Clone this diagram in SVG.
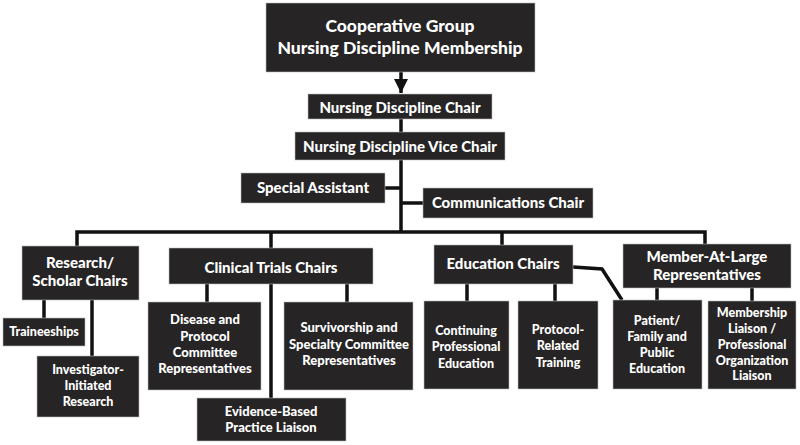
<svg xmlns="http://www.w3.org/2000/svg" width="800" height="445" viewBox="0 0 800 445">
<style>
.box{fill:#262425;stroke:#bdbdbd;stroke-width:0.6}
.t{font-family:Lato,"Open Sans",sans-serif;font-weight:900;fill:#fff;text-anchor:middle;dominant-baseline:central}
.l{font-size:17.5px}.m{font-size:15px}.s{font-size:13px}.xs{font-size:12.5px}
.c{stroke:#111;stroke-width:3.5;fill:none}
</style>
<defs><marker id="ah" viewBox="0 0 10 10" refX="10" refY="5" markerWidth="4" markerHeight="4" orient="auto"><path d="M0,0 L10,5 L0,10 z" fill="#111"/></marker></defs>
<rect width="800" height="445" fill="#fff"/>
<g id="connectors">
<line class="c" x1="401" y1="72" x2="401" y2="93" marker-end="url(#ah)"/>
<line class="c" x1="401" y1="119" x2="401" y2="132"/>
<line class="c" x1="401" y1="160" x2="401" y2="233"/>
<line class="c" x1="385" y1="188" x2="401" y2="188"/>
<line class="c" x1="401" y1="203" x2="423" y2="203"/>
<polyline class="c" points="77,246 77,232 705,232 705,244"/>
<line class="c" x1="271" y1="232" x2="271" y2="248"/>
<line class="c" x1="502" y1="232" x2="502" y2="245"/>
<line class="c" x1="44" y1="300" x2="44" y2="318"/>
<line class="c" x1="92" y1="300" x2="92" y2="356"/>
<line class="c" x1="207" y1="284" x2="207" y2="302"/>
<line class="c" x1="347" y1="284" x2="347" y2="302"/>
<line class="c" x1="271" y1="284" x2="271" y2="398"/>
<line class="c" x1="467" y1="284" x2="467" y2="301"/>
<line class="c" x1="555" y1="284" x2="555" y2="301"/>
<polyline class="c" points="573,267 602,269 622,300"/>
<line class="c" x1="657" y1="288" x2="657" y2="300"/>
<line class="c" x1="752" y1="288" x2="752" y2="301"/>
</g>
<g id="n-top"><rect class="box" x="266" y="3" width="269" height="69"/><text class="t l" x="400" y="25">Cooperative Group</text><text class="t l" x="400" y="47">Nursing Discipline  Membership</text></g>
<g id="n-chair"><rect class="box" x="308" y="94" width="184" height="25"/><text class="t m" x="400" y="107">Nursing Discipline Chair</text></g>
<g id="n-vice"><rect class="box" x="295" y="132" width="210" height="28"/><text class="t m" x="400" y="146">Nursing Discipline Vice Chair</text></g>
<g id="n-special"><rect class="box" x="241" y="173" width="144" height="30"/><text class="t m" x="313" y="187">Special Assistant</text></g>
<g id="n-comm"><rect class="box" x="423" y="188" width="170" height="30"/><text class="t m" x="508" y="202">Communications Chair</text></g>
<g id="n-research"><rect class="box" x="22" y="246" width="117" height="54"/><text class="t m" x="80" y="262">Research/</text><text class="t m" x="80" y="280">Scholar Chairs</text></g>
<g id="n-clinical"><rect class="box" x="169" y="248" width="204" height="36"/><text class="t m" x="271" y="267">Clinical Trials Chairs</text></g>
<g id="n-education"><rect class="box" x="434" y="245" width="139" height="39"/><text class="t m" x="503" y="263">Education Chairs</text></g>
<g id="n-member"><rect class="box" x="623" y="244" width="168" height="44"/><text class="t m" x="707" y="256">Member-At-Large</text><text class="t m" x="707" y="274">Representatives</text></g>
<g id="n-trainee"><rect class="box" x="3" y="318" width="82" height="28"/><text class="t xs" x="44" y="331">Traineeships</text></g>
<g id="n-investigator"><rect class="box" x="37" y="356" width="102" height="61"/><text class="t xs" x="88" y="369">Investigator-</text><text class="t xs" x="88" y="385">Initiated</text><text class="t xs" x="88" y="401">Research</text></g>
<g id="n-disease"><rect class="box" x="148" y="302" width="113" height="88"/><text class="t s" x="205" y="319">Disease and</text><text class="t s" x="205" y="336">Protocol</text><text class="t s" x="205" y="352">Committee</text><text class="t s" x="205" y="368">Representatives</text></g>
<g id="n-surv"><rect class="box" x="284" y="302" width="129" height="88"/><text class="t s" x="349" y="327">Survivorship and</text><text class="t s" x="349" y="344">Specialty Committee</text><text class="t s" x="349" y="360">Representatives</text></g>
<g id="n-evidence"><rect class="box" x="197" y="398" width="149" height="43"/><text class="t s" x="271" y="411">Evidence-Based</text><text class="t s" x="271" y="427">Practice Liaison</text></g>
<g id="n-continuing"><rect class="box" x="424" y="301" width="85" height="88"/><text class="t xs" x="466" y="330">Continuing</text><text class="t xs" x="466" y="346">Professional</text><text class="t xs" x="466" y="363">Education</text></g>
<g id="n-protocol"><rect class="box" x="518" y="301" width="80" height="88"/><text class="t xs" x="558" y="329">Protocol-</text><text class="t xs" x="558" y="345">Related</text><text class="t xs" x="558" y="362">Training</text></g>
<g id="n-patient"><rect class="box" x="613" y="300" width="89" height="89"/><text class="t xs" x="657" y="320">Patient/</text><text class="t xs" x="657" y="336">Family and</text><text class="t xs" x="657" y="352">Public</text><text class="t xs" x="657" y="368">Education</text></g>
<g id="n-liaison"><rect class="box" x="708" y="301" width="88" height="88"/><text class="t xs" x="752" y="312">Membership</text><text class="t xs" x="752" y="328">Liaison /</text><text class="t xs" x="752" y="344">Professional</text><text class="t xs" x="752" y="360">Organization</text><text class="t xs" x="752" y="375">Liaison</text></g>
</svg>
